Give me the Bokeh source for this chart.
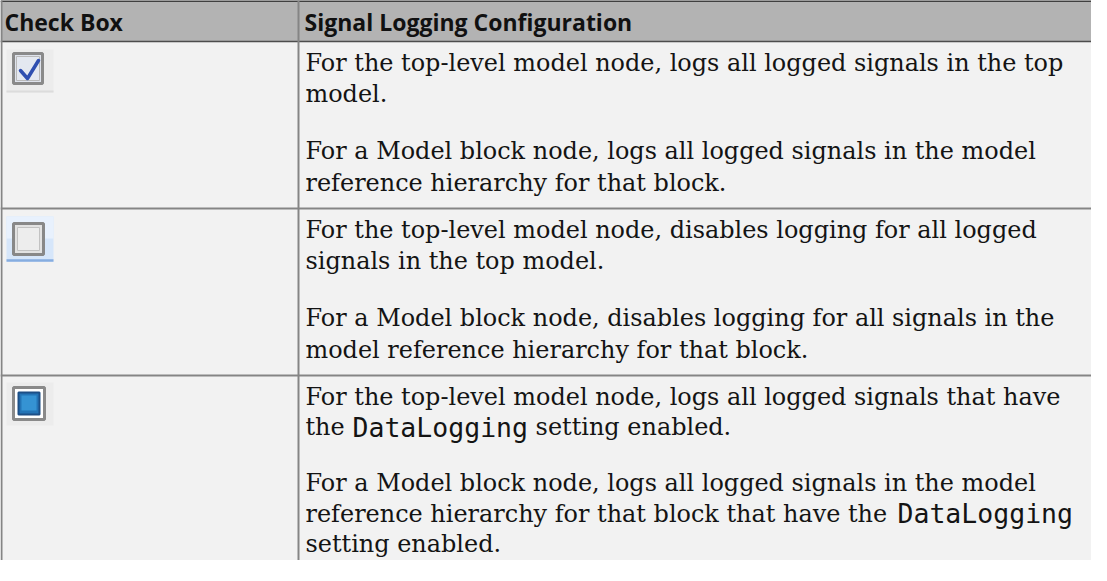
from bokeh.plotting import figure
from bokeh.models import Range1d
from bokeh.core.properties import value
from bokeh.embed import file_html
from bokeh.resources import INLINE

# ---------------- data ----------------
headers = ["Check Box", "Signal Logging Configuration"]
states = ["checked", "unchecked", "partial"]
# each row: list of paragraphs, each paragraph: list of lines; `...` marks code
descriptions = [
    [["For the top-level model node, logs all logged signals in the top",
      "model."],
     ["For a Model block node, logs all logged signals in the model",
      "reference hierarchy for that block."]],
    [["For the top-level model node, disables logging for all logged",
      "signals in the top model."],
     ["For a Model block node, disables logging for all signals in the",
      "model reference hierarchy for that block."]],
    [["For the top-level model node, logs all logged signals that have",
      "the `DataLogging` setting enabled."],
     ["For a Model block node, logs all logged signals in the model",
      "reference hierarchy for that block that have the `DataLogging`",
      "setting enabled."]],
]

# ---------------- layout ----------------
W, H = 1091, 560
X0, Y0 = 8, 8
TABLE_L, TABLE_TOP, HEAD_B = 8, 8, 49
COL2 = 306
ROW_H = 167
row_tops = [HEAD_B + i * ROW_H for i in range(len(states))]
TEXT_X = 313
TEXT_DY = -8          # correction of the rendered text baseline
SERIF = "DejaVu Serif"
SERIF_SIZE = 23.95
SPACE_W = 0.318 * SERIF_SIZE
MONO = "DejaVu Sans Mono"
MONO_SIZE = 26.5
MONO_ADV = 0.602 * MONO_SIZE
LINE_H = 31.7
PARA_GAP = 25.5
FIRST_BASE = 29
MAX_BASE = Y0 + H - 8.5   # keep the descenders of the last line inside the figure
code_x = {(2, 0, 1): 360, (2, 1, 1): 905}

p = figure(width=W, height=H, x_range=Range1d(X0, X0 + W), y_range=Range1d(Y0 + H, Y0),
           output_backend="svg", toolbar_location=None, min_border=0,
           x_axis_type=None, y_axis_type=None)
p.grid.visible = False
p.outline_line_color = None
p.background_fill_color = "white"
p.border_fill_color = "white"

RIGHT = X0 + W + 20
BOTTOM = Y0 + H + 20
# body and header backgrounds
p.quad(left=[TABLE_L], right=[RIGHT], top=[HEAD_B], bottom=[BOTTOM],
       fill_color="#f2f2f2", line_color=None)
p.quad(left=[TABLE_L], right=[RIGHT], top=[TABLE_TOP], bottom=[HEAD_B],
       fill_color="#b3b3b3", line_color=None)

# borders
p.segment(x0=[TABLE_L], y0=[TABLE_TOP + 0.5], x1=[RIGHT], y1=[TABLE_TOP + 0.5],
          line_color="#1a1a1a", line_width=1.5)
p.segment(x0=[TABLE_L], y0=[HEAD_B], x1=[RIGHT], y1=[HEAD_B],
          line_color="#4d4d4d", line_width=1.5)
p.segment(x0=[TABLE_L] * (len(row_tops) - 1), y0=row_tops[1:],
          x1=[RIGHT] * (len(row_tops) - 1), y1=row_tops[1:],
          line_color="#858585", line_width=2)
p.segment(x0=[TABLE_L + 1, COL2], y0=[TABLE_TOP, TABLE_TOP], x1=[TABLE_L + 1, COL2],
          y1=[BOTTOM, BOTTOM], line_color="#858585", line_width=2)

# header texts
p.text(x=[12, TEXT_X - 1], y=[37 + TEXT_DY, 37 + TEXT_DY], text=headers,
       text_font=value("Open Sans"), text_font_style="bold", text_font_size="23px",
       text_color="#111111", text_baseline="alphabetic", text_align="left")

# body texts
sx, sy, st = [], [], []
mx, my, mt = [], [], []
for r, paras in enumerate(descriptions):
    base = row_tops[r] + FIRST_BASE
    n_lines = sum(len(pp) for pp in paras)
    gaps = len(paras) - 1
    lh = LINE_H
    last = base + (n_lines - 1) * lh + gaps * PARA_GAP
    if last > MAX_BASE:
        lh = (MAX_BASE - base - gaps * PARA_GAP) / (n_lines - 1)
    li = 0
    for pi, para in enumerate(paras):
        for lj, line in enumerate(para):
            y = base + li * lh + pi * PARA_GAP + TEXT_DY
            parts = line.split("`")
            if len(parts) == 1:
                sx.append(TEXT_X); sy.append(y); st.append(line)
            else:
                cx = code_x[(r, pi, lj)]
                sx.append(TEXT_X); sy.append(y); st.append(parts[0].rstrip())
                mx.append(cx); my.append(y); mt.append(parts[1])
                rest = parts[2]
                if rest.strip():
                    lead = SPACE_W if rest.startswith(" ") else 0
                    sx.append(cx + len(parts[1]) * MONO_ADV + lead)
                    sy.append(y); st.append(rest.strip())
            li += 1

p.text(x=sx, y=sy, text=st, text_font=value(SERIF), text_font_size=f"{SERIF_SIZE}px",
       text_color="#141414", text_baseline="alphabetic", text_align="left")
p.text(x=mx, y=my, text=mt, text_font=value(MONO), text_font_size=f"{MONO_SIZE}px",
       text_color="#141414", text_baseline="alphabetic", text_align="left")

# check box icons
for r, state in enumerate(states):
    t = row_tops[r]
    ix = 14
    if state == "checked":
        iy = t + 8
        p.quad(left=[ix], right=[ix + 47], top=[iy], bottom=[iy + 43],
               fill_color="#ececec", line_color=None)
        p.segment(x0=[ix], y0=[iy + 42], x1=[ix + 47], y1=[iy + 42],
                  line_color="#dcdcdc", line_width=2)
        p.quad(left=[ix + 7], right=[ix + 36], top=[iy + 4], bottom=[iy + 34],
               fill_color="#dfe3ec", line_color="#8a8a8a", line_width=3)
        p.quad(left=[ix + 10], right=[ix + 33], top=[iy + 7], bottom=[iy + 31],
               fill_color="#e4e8f0", line_color="#b9b9b9", line_width=1)
        p.line(x=[ix + 14, ix + 21, ix + 32], y=[iy + 21, iy + 29, iy + 11],
               line_color="#2f4fb0", line_width=3.5, line_join="round", line_cap="round")
    elif state == "unchecked":
        iy = t + 8
        p.quad(left=[ix], right=[ix + 47], top=[iy], bottom=[iy + 45],
               fill_color="#d6e6fa", line_color=None)
        p.quad(left=[ix], right=[ix + 47], top=[iy], bottom=[iy + 22],
               fill_color="#e8f1fd", line_color=None)
        p.segment(x0=[ix], y0=[iy + 44], x1=[ix + 47], y1=[iy + 44],
                  line_color="#86ade0", line_width=2.5)
        p.quad(left=[ix + 7], right=[ix + 37], top=[iy + 7], bottom=[iy + 38],
               fill_color="#e2e2e2", line_color="#888888", line_width=3)
        p.quad(left=[ix + 11], right=[ix + 33], top=[iy + 11], bottom=[iy + 34],
               fill_color="#ededed", line_color="#c2c2c2", line_width=1)
    else:
        iy = t + 7
        p.quad(left=[ix], right=[ix + 47], top=[iy], bottom=[iy + 43],
               fill_color="#ececec", line_color=None)
        p.quad(left=[ix + 7], right=[ix + 38], top=[iy + 5], bottom=[iy + 37],
               fill_color="#ffffff", line_color="#8a8a8a", line_width=3)
        p.quad(left=[ix + 12], right=[ix + 33], top=[iy + 10], bottom=[iy + 32],
               fill_color="#2474b6", line_color="#1d4f86", line_width=2)
        p.quad(left=[ix + 15], right=[ix + 30], top=[iy + 13], bottom=[iy + 28],
               fill_color="#3593d3", line_color=None)

open("out.html", "w").write(file_html(p, INLINE))
